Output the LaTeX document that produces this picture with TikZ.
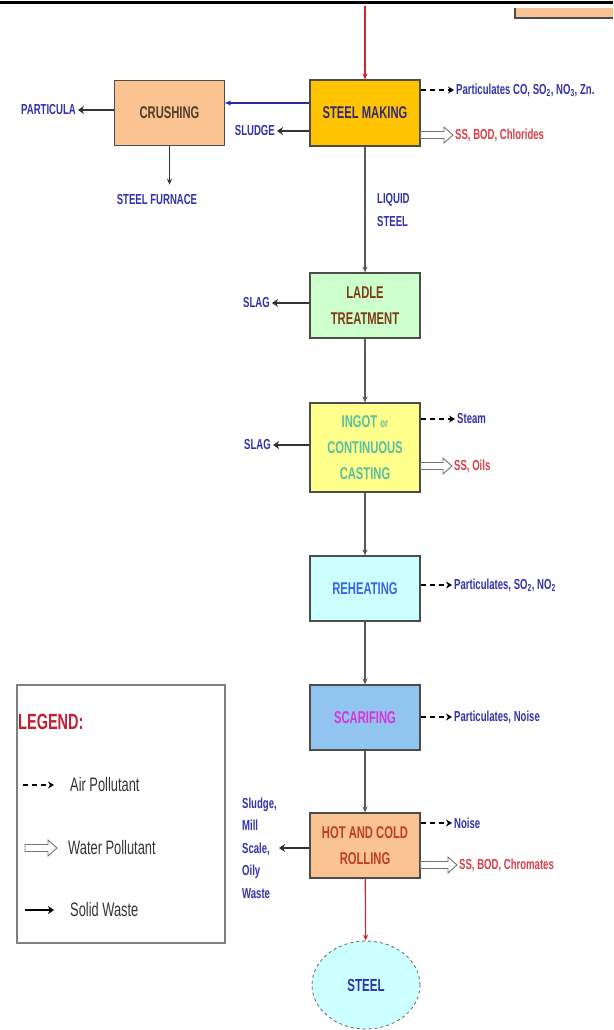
\documentclass[tikz,border=0pt]{standalone}
\usepackage{fontspec}
\setmainfont{Liberation Sans}[FakeStretch=0.66]
\usetikzlibrary{arrows.meta,shapes.geometric,calc,positioning}

\definecolor{smfill}{RGB}{255,196,0}
\definecolor{crfill}{RGB}{250,196,146}
\definecolor{ldfill}{RGB}{204,255,204}
\definecolor{igfill}{RGB}{255,255,140}
\definecolor{rhfill}{RGB}{204,255,255}
\definecolor{scfill}{RGB}{146,196,240}
\definecolor{smtext}{RGB}{55,40,120}
\definecolor{crtext}{RGB}{85,60,45}
\definecolor{ldtext}{RGB}{125,60,20}
\definecolor{igtext}{RGB}{90,190,160}
\definecolor{rhtext}{RGB}{60,100,230}
\definecolor{sctext}{RGB}{220,50,220}
\definecolor{rltext}{RGB}{190,60,40}
\definecolor{lblblue}{RGB}{50,50,170}
\definecolor{lblred}{RGB}{220,60,70}
\definecolor{legred}{RGB}{200,30,50}
\definecolor{redline}{RGB}{200,40,40}
\definecolor{arrblue}{RGB}{40,40,170}

\tikzstyle{block} = [draw=black!70, line width=1.1pt, rectangle, minimum width=110pt, minimum height=65pt, align=center, font=\bfseries\fontsize{17}{26}\selectfont]
\tikzstyle{side} = [inner sep=2pt, font=\bfseries\fontsize{14.5}{22.5}\selectfont]
\tikzstyle{flow} = [draw=black!65, line width=1.4pt, -{Stealth[length=6pt,width=5pt]}]
\tikzstyle{waste} = [draw=black!80, line width=2.4pt, -{Stealth[length=6pt,width=8pt]}]
\tikzstyle{air} = [draw=black, line width=1.5pt, dash pattern=on 5pt off 4pt, -{Stealth[length=6pt,width=7pt]}]
\tikzstyle{legtext} = [anchor=west, inner sep=0pt, text=black!80, font=\fontsize{19.5}{20}\selectfont]

\newcommand{\wpol}[2]{\path[draw=black!55, line width=0.9pt, fill=white] let \p1=(#1), \p2=(#2) in (\x1,\y1+3.5pt) -- (\x2-9pt,\y1+3.5pt) -- (\x2-9pt,\y1+8pt) -- (\x2,\y1) -- (\x2-9pt,\y1-8pt) -- (\x2-9pt,\y1-3.5pt) -- (\x1,\y1-3.5pt) -- cycle;}

\begin{document}
\begin{tikzpicture}[x=1pt, y=-1pt]

\def\colB{lblblue}
\def\colW{lblred}

\useasboundingbox (0,0) rectangle (613,1030);

\draw[line width=3pt] (0,3) -- (613,3);
\fill[crfill] (515,8) rectangle (613,18);
\draw[black!70, line width=1.2pt] (515,8) -- (515,18) -- (613,18);

\node at (365,113)[block, fill=smfill, minimum height=66pt, text=smtext] (SM) {STEEL MAKING};
\node at (169.5,113)[block, fill=crfill, text=crtext] (CR) {CRUSHING};
\node at (365,305.5)[block, fill=ldfill, text=ldtext] (LT) {LADLE\\TREATMENT};
\node at (365,447.5)[block, fill=igfill, text=igtext, minimum height=89pt] (IC)
      {INGOT {\fontsize{12}{12}\selectfont or}\\CONTINUOUS\\CASTING};
\node at (365,588.5)[block, fill=rhfill, text=rhtext] (RH) {REHEATING};
\node at (365,717.5)[block, fill=scfill, text=sctext] (SC) {SCARIFING};
\node at (365,845.5)[block, fill=crfill, text=rltext] (RL) {HOT AND COLD\\ROLLING};
\node at (366,985)[ellipse, draw=black!60, dashed, line width=0.8pt, fill=rhfill,
      minimum width=108pt, minimum height=88pt, text=lblblue,
      font=\bfseries\fontsize{17.5}{18}\selectfont] (ST) {STEEL};

\coordinate (in) at (365,6);
\draw[flow, draw=redline, line width=1.2pt] (in) -- (SM);
\draw[flow] (SM) -- (LT);
\draw[flow] (LT) -- (IC);
\draw[flow] (IC) -- (RH);
\draw[flow] (RH) -- (SC);
\draw[flow] (SC) -- (RL);
\draw[flow, draw=redline, line width=1.2pt] (RL) -- (ST);

\node[side, anchor=west, align=left, text=\colB] (lq) at (375,210) {LIQUID\\STEEL};

\node[side, anchor=west, text=\colB] (pSM) at (454,90)
      {Particulates CO, SO\textsubscript{2}, NO\textsubscript{3}, Zn.};
\draw[air] (SM.east |- pSM.west) -- (pSM.west);
\node[side, anchor=west, text=\colW] (wSM) at (453,135) {SS, BOD, Chlorides};
\wpol{SM.east |- wSM.west}{wSM.west}

\draw[flow, draw=arrblue, line width=2pt] ([yshift=10pt]SM.west) -- ([yshift=10pt]CR.east);
\node[side, anchor=east, text=\colB] (sl) at (277,131) {SLUDGE};
\draw[waste] (SM.west |- sl.east) -- (sl.east);

\node[side, anchor=east, text=\colB] (pa) at (78,110) {PARTICULA};
\draw[waste] (CR.west |- pa.east) -- (pa.east);
\node[side, text=\colB] (sf) at (157,200) {STEEL FURNACE};
\draw[flow, draw=black!80, shorten >=8pt] (CR.south) -- (CR.south |- sf.north);

\node[side, anchor=east, text=\colB] (s1) at (272,303) {SLAG};
\draw[waste] (LT.west |- s1.east) -- (s1.east);

\node[side, anchor=east, text=\colB] (s2) at (273,445) {SLAG};
\draw[waste] (IC.west |- s2.east) -- (s2.east);
\node[side, anchor=west, text=\colB] (pIC) at (455,419) {Steam};
\draw[air] (IC.east |- pIC.west) -- (pIC.west);
\node[side, anchor=west, text=\colW] (wIC) at (452,466) {SS, Oils};
\wpol{IC.east |- wIC.west}{wIC.west}

\node[side, anchor=west, text=\colB] (pRH) at (452,585)
      {Particulates, SO\textsubscript{2}, NO\textsubscript{2}};
\draw[air] (RH.east |- pRH.west) -- (pRH.west);

\node[side, anchor=west, text=\colB] (pSC) at (452,717) {Particulates, Noise};
\draw[air] (SC.east |- pSC.west) -- (pSC.west);

\node[side, anchor=west, text=\colB] (pRL) at (452,823) {Noise};
\draw[air] (RL.east |- pRL.west) -- (pRL.west);
\node[side, anchor=west, text=\colW] (wRL) at (457,865) {SS, BOD, Chromates};
\wpol{RL.east |- wRL.west}{wRL.west}
\node[side, anchor=west, align=left, text=\colB] (rlw) at (240,848)
      {Sludge,\\Mill\\Scale,\\Oily\\Waste};
\draw[waste] (RL.west |- rlw.east) -- (rlw.east);

\node[draw=black!50, line width=1.2pt, minimum width=208pt, minimum height=258pt] (leg) at (121,814) {};
\node[anchor=west, inner sep=0pt, text=legred, font=\bfseries\fontsize{22}{22}\selectfont] (lg) at (18,722) {LEGEND:};
\node[legtext] (la) at (70,785) {Air Pollutant};
\node[legtext] (lw) at (68,848) {Water Pollutant};
\node[legtext] (lsw) at (70,910) {Solid Waste};
\coordinate (a0) at (23,785);
\coordinate (w0) at (25,848);
\coordinate (s0) at (25,910);
\draw[air, line width=1.2pt, shorten >=16pt] (a0) -- (la.west);
\wpol{w0}{[xshift=-11pt]lw.west}
\draw[waste, draw=black, line width=1.6pt, shorten >=16pt] (s0) -- (lsw.west);

\end{tikzpicture}
\end{document}
